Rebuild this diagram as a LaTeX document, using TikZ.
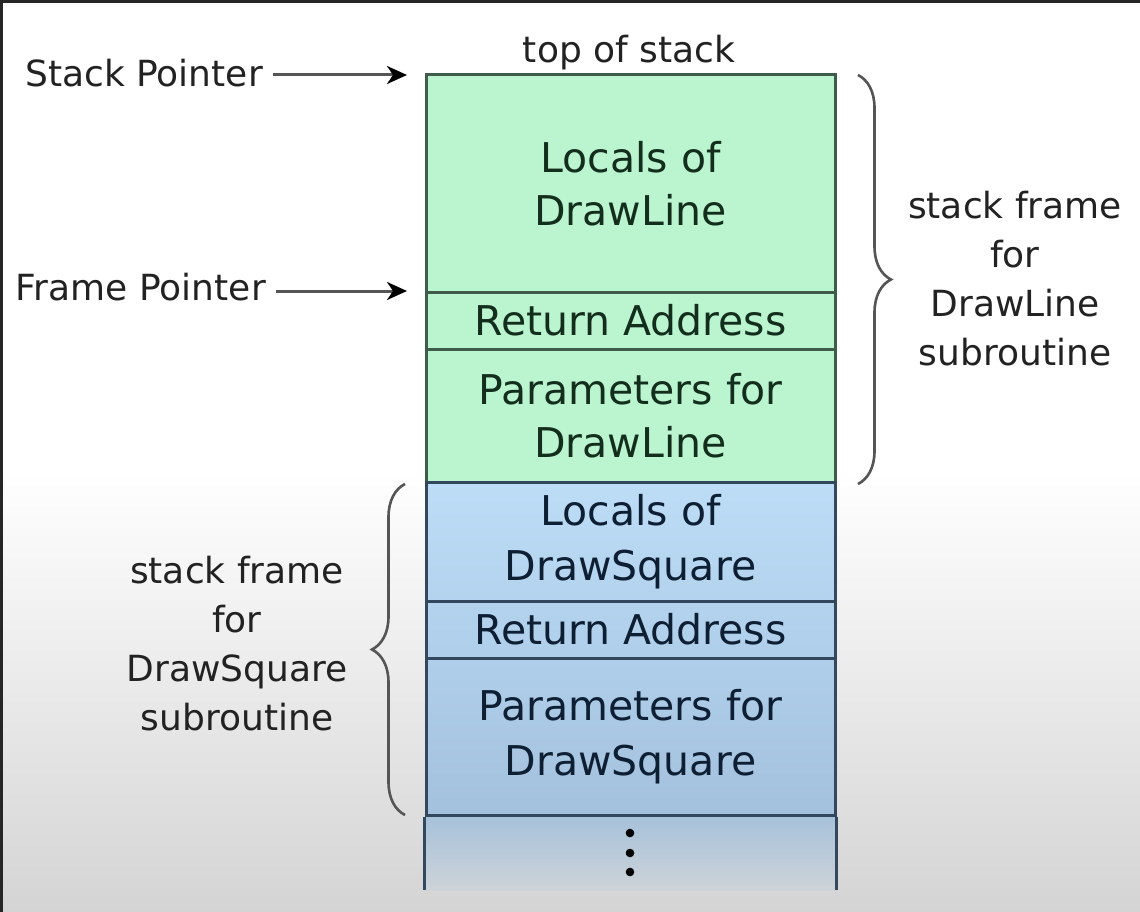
\documentclass[tikz,border=0pt]{standalone}
\usepackage{fontspec}
\setmainfont{DejaVu Sans}
\usetikzlibrary{arrows.meta,decorations.pathreplacing,calc}
\definecolor{gfill}{HTML}{BAF5D0}
\definecolor{gline}{HTML}{3F5C4B}
\definecolor{gtext}{HTML}{142E1E}
\definecolor{bline}{HTML}{33485C}
\definecolor{btext}{HTML}{0E1F33}
\definecolor{bA}{HTML}{BDDDF7}
\definecolor{bB}{HTML}{A3C1DD}
\definecolor{bC}{HTML}{A6C1DA}
\definecolor{bD}{HTML}{CDD3D8}
\definecolor{bgB}{HTML}{D4D4D4}
\definecolor{lbl}{HTML}{222222}
\definecolor{arr}{HTML}{555555}
\begin{document}
\begin{tikzpicture}[x=1pt,y=-1pt,
  cellg/.style={draw=gline, fill=gfill, line width=3pt, minimum width=409pt, inner sep=0pt,
    text=gtext, font=\fontsize{41}{53}\selectfont, align=center},
  cellb/.style={draw=bline, line width=3pt, minimum width=409pt, inner sep=0pt,
    text=btext, font=\fontsize{41}{55}\selectfont, align=center},
  sidelbl/.style={text=lbl, font=\fontsize{36}{49}\selectfont, align=center, inner sep=0pt},
  ptr/.style={draw=arr, line width=3pt, -{Stealth[length=20pt,width=18pt,inset=6pt,color=black]}},
  bracestyle/.style={draw=arr, line width=2.6pt, decorate, decoration={brace, amplitude=33pt, aspect=0.5}}
]
\useasboundingbox (0,0) rectangle (1140,912);
% background
\fill[white] (0,0) rectangle (1140,470);
\shade[top color=white, bottom color=bgB] (0,470) rectangle (1140,912);
\fill[black!85] (0,0) rectangle (1140,3);
\fill[black!85] (0,0) rectangle (3,912);

% green frame
\node[cellg, minimum height=217pt] (c1) at (630.5,183.5) {Locals of\\DrawLine};
\node[cellg, minimum height=57pt]  (c2) at (630.5,320.5) {Return Address};
\node[cellg, minimum height=133pt] (c3) at (630.5,415.5) {Parameters for\\DrawLine};

% blue frame
\shade[top color=bA, bottom color=bB] (426,482) rectangle (835,815);
\shade[top color=bC, bottom color=bD] (426,815) rectangle (835,890);
\node[cellb, minimum height=119pt] (c4) at (630.5,541.5) {Locals of\\DrawSquare};
\node[cellb, minimum height=57pt]  (c5) at (630.5,629.5) {Return Address};
\node[cellb, minimum height=157pt] (c6) at (630.5,736.5) {Parameters for\\DrawSquare};
\coordinate (colbot) at (630,890);
\draw[bline, line width=3pt] (c6.south west) -- (c6.south west |- colbot);
\draw[bline, line width=3pt] (c6.south east) -- (c6.south east |- colbot);
\fill[black] (630,833) circle[radius=4.3pt];
\fill[black] (630,853) circle[radius=4.3pt];
\fill[black] (630,872) circle[radius=4.3pt];

% top label
\node[sidelbl, anchor=base] (top) at (629,63) {top of stack};

% pointers
\node[sidelbl, anchor=base east] (sp) at (263,87) {Stack Pointer};
\node[sidelbl, anchor=base east] (fp) at (266,300) {Frame Pointer};
\coordinate (spTip) at (407,75);
\coordinate (fpTip) at (407,291);
\draw[ptr] ($(sp.east |- spTip)+(10,0)$) -- (spTip);
\draw[ptr] ($(fp.east |- fpTip)+(10,0)$) -- (fpTip);

% braces
\coordinate (rb1) at (858,75);
\coordinate (rb2) at (858,484);
\draw[bracestyle] (rb1) -- (rb2);
\node[sidelbl] (rl) at (1015,279) {stack frame\\for\\DrawLine\\subroutine};
\coordinate (lb1) at (405,815);
\coordinate (lb2) at (405,484);
\draw[bracestyle] (lb1) -- (lb2);
\node[sidelbl] (ll) at (237,644) {stack frame\\for\\DrawSquare\\subroutine};
\end{tikzpicture}
\end{document}
